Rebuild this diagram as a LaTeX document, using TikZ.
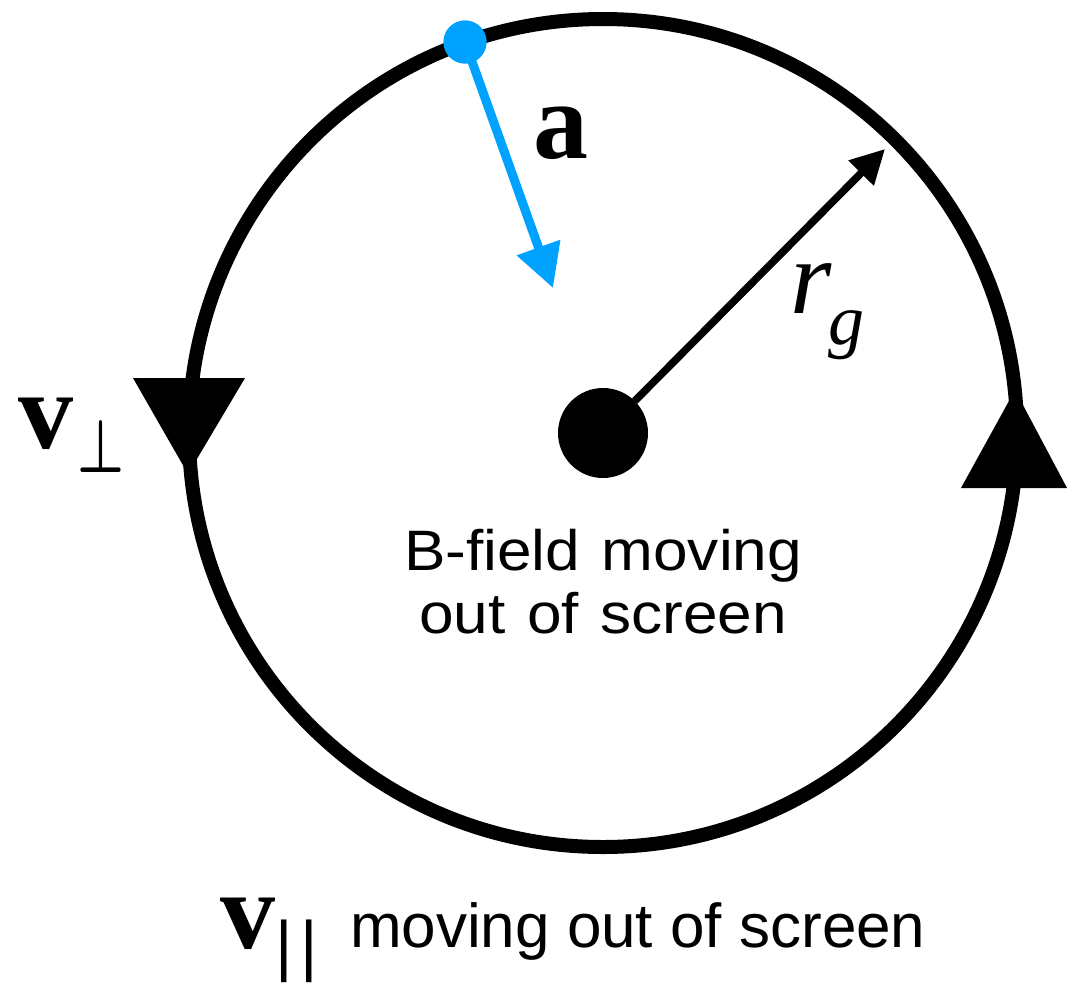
\documentclass[tikz,border=0pt]{standalone}
\usepackage{fontspec}
\setmainfont{Liberation Serif}
\newfontfamily\sansA[WordSpace=1.25,FakeStretch=1.09]{Liberation Sans}
\newfontfamily\sansB{Liberation Sans}
\usetikzlibrary{arrows.meta}
\definecolor{vecblue}{RGB}{0,162,255}
\begin{document}
\begin{tikzpicture}[x=1pt,y=-1pt,
  lbl/.style={inner sep=0pt,outer sep=0pt},
  orbit/.style={line width=14pt,draw=black},
  headtri/.style={fill=black},
  bluevec/.style={draw=vecblue,line width=9pt,-{Triangle[length=43pt,width=44pt]}},
  blackvec/.style={draw=black,line width=7.5pt,-{Triangle[length=34pt,width=34pt]}},
  bigbf/.style={lbl,font=\fontsize{110}{110}\selectfont\bfseries},
  midtxt/.style={lbl,anchor=base,font=\fontsize{57}{57}\selectfont\sansA},
]
\useasboundingbox (0,0) rectangle (1067,988);
\fill[white] (0,0) rectangle (1067,988);

% orbit
\coordinate (O) at (603,433);
\draw[orbit] (O) circle[radius=414];

% direction triangles on the orbit
\fill[headtri] (133,378) -- (245,378) -- (188,474) -- cycle;
\fill[headtri] (1015,390) -- (1067,488) -- (961,488) -- cycle;

% acceleration vector
\node[lbl,circle,fill=vecblue,minimum size=43pt] (p) at (465,42) {};
\coordinate (atip) at (553,288);
\draw[bluevec] (p.center) -- (atip);
\node[lbl,circle,fill=vecblue,minimum size=43pt] at (p) {};

% gyroradius vector
\node[lbl,circle,fill=black,minimum size=90pt] (c) at (O) {};
\coordinate (rtip) at (885,149);
\draw[blackvec] (c) -- (rtip);

% labels
\node[bigbf,anchor=base west] (alab) at (533,158) {a};
\node[lbl,anchor=base west,font=\fontsize{106}{106}\selectfont\itshape] (rlab) at (790,313) {r};
\node[lbl,anchor=base west,font=\fontsize{72}{72}\selectfont\itshape] (glab) at (828,344) {g};

\node[bigbf,anchor=base west] (vperp) at (18,448) {v};
\node[lbl,anchor=south west] (perp) at (77,472) {\resizebox{47pt}{52pt}{\boldmath$\perp$}};

\node[midtxt] (b1) at (603,570) {B-field moving};
\node[midtxt] (b2) at (603,633) {out of screen};

\node[bigbf,anchor=base west] (vpar) at (220,948) {v};
\node[lbl,anchor=north west,font=\fontsize{67}{67}\selectfont\sansB] (par) at (275,920) {|\hspace{8pt}|};
\node[lbl,anchor=base west,font=\fontsize{62}{62}\selectfont\sansB] (bot) at (350,947) {moving out of screen};
\end{tikzpicture}
\end{document}
